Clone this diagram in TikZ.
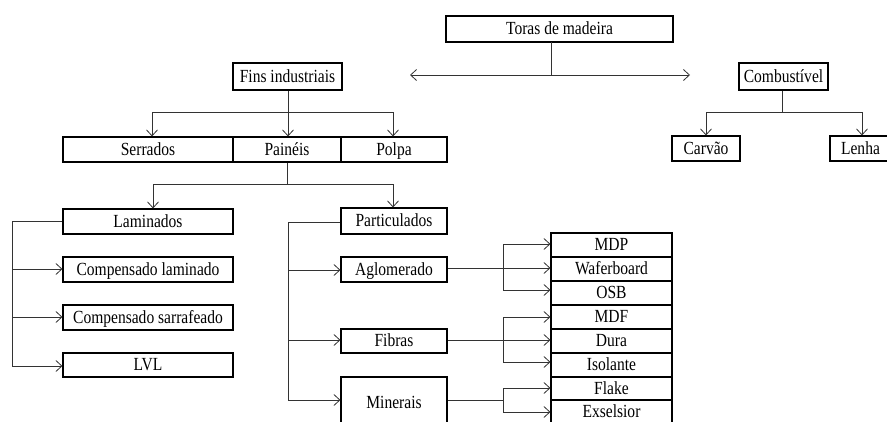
\documentclass[tikz,border=0pt]{standalone}
\usepackage{fontspec}
\setmainfont{Liberation Serif}[FakeStretch=0.84]
\usetikzlibrary{arrows.meta}
\begin{document}
\begin{tikzpicture}[x=1pt,y=-1pt,
  box/.style={draw=black,line width=1.1pt,inner sep=0pt,text height=13pt,text depth=1.5pt,
    font=\fontsize{18.5pt}{20pt}\selectfont},
  conn/.style={draw=black!80,line width=0.8pt},
  arr/.style={conn,-{Straight Barb[length=6pt,width=11pt]}}]
\useasboundingbox (0,0) rectangle (887,421);
\clip (0,0) rectangle (887,421);
% boxes
\node[box,minimum width=227pt,minimum height=26pt] (toras) at (559.5,29) {Toras de madeira};
\node[box,minimum width=109pt,minimum height=27pt] (fins) at (287.5,76.5) {Fins industriais};
\node[box,minimum width=89pt,minimum height=27pt] (comb) at (783.5,76.5) {Combustível};
\node[box,minimum width=170pt,minimum height=25pt] (serr) at (148,149.5) {Serrados};
\node[box,minimum width=108pt,minimum height=25pt] (pain) at (287,149.5) {Painéis};
\node[box,minimum width=106pt,minimum height=25pt] (polpa) at (394,149.5) {Polpa};
\node[box,minimum width=68pt,minimum height=25pt] (carvao) at (706,148.5) {Carvão};
\node[box,minimum width=61pt,minimum height=25pt] (lenha) at (860.5,148.5) {Lenha};
\node[box,minimum width=170pt,minimum height=25pt] (lam) at (148,221.5) {Laminados};
\node[box,minimum width=170pt,minimum height=25pt] (cl) at (148,269.5) {Compensado laminado};
\node[box,minimum width=170pt,minimum height=25pt] (cs) at (148,317.5) {Compensado sarrafeado};
\node[box,minimum width=170pt,minimum height=24pt] (lvl) at (148,365) {LVL};
\node[box,minimum width=106pt,minimum height=26pt] (part) at (394,221) {Particulados};
\node[box,minimum width=106pt,minimum height=25pt] (aglo) at (394,269.5) {Aglomerado};
\node[box,minimum width=106pt,minimum height=24pt] (fib) at (394,341) {Fibras};
\node[box,minimum width=106pt,minimum height=51pt] (min) at (394,402.5) {Minerais};
\node[box,minimum width=121pt,minimum height=24pt] (mdp) at (611.5,245) {MDP};
\node[box,minimum width=121pt,minimum height=24pt] (waf) at (611.5,269) {Waferboard};
\node[box,minimum width=121pt,minimum height=24pt] (osb) at (611.5,293) {OSB};
\node[box,minimum width=121pt,minimum height=24pt] (mdf) at (611.5,317) {MDF};
\node[box,minimum width=121pt,minimum height=24pt] (dura) at (611.5,341) {Dura};
\node[box,minimum width=121pt,minimum height=24pt] (iso) at (611.5,365) {Isolante};
\node[box,minimum width=121pt,minimum height=23pt] (flake) at (611.5,388.5) {Flake};
\node[box,minimum width=121pt,minimum height=24pt] (exs) at (611.5,412) {Exselsior};
% coordinates
\coordinate (t0) at (551,42);
\coordinate (t1) at (551,75);
\coordinate (tl) at (410,75);
\coordinate (tr) at (690,75);
\coordinate (f0) at (288,112);
\coordinate (fl) at (152,112);
\coordinate (fr) at (393,112);
\coordinate (p0) at (287,184);
\coordinate (pl) at (153,184);
\coordinate (pr) at (393,184);
\coordinate (c0) at (782,112);
\coordinate (cl0) at (706,112);
\coordinate (cr0) at (862,112);
\coordinate (lb) at (12,221);
\coordinate (pb) at (288,222);
% top
\draw[conn] (t0) -- (t1);
\draw[arr] (t1) -- (tl);
\draw[arr] (t1) -- (tr);
% fins
\draw[conn] (fins.south -| f0) -- (f0);
\draw[conn] (fl) -- (fr);
\draw[arr] (fl) -- (fl |- serr.north);
\draw[arr] (f0) -- (f0 |- pain.north);
\draw[arr] (fr) -- (fr |- polpa.north);
% combustivel
\draw[conn] (comb.south -| c0) -- (c0);
\draw[conn] (cl0) -- (cr0);
\draw[arr] (cl0) -- (cl0 |- carvao.north);
\draw[arr] (cr0) -- (cr0 |- lenha.north);
% paineis
\draw[conn] (pain.south) -- (p0);
\draw[conn] (pl) -- (pr);
\draw[arr] (pl) -- (pl |- lam.north);
\draw[arr] (pr) -- (pr |- part.north);
% laminados
\draw[conn] (lam.west |- lb) -- (lb) -- (12,366);
\draw[arr] (12,269) -- (cl.west |- 0,269);
\draw[arr] (12,317) -- (cs.west |- 0,317);
\draw[arr] (12,366) -- (lvl.west |- 0,366);
% particulados
\draw[conn] (part.west |- pb) -- (pb) -- (288,400);
\draw[arr] (288,270) -- (aglo.west |- 0,270);
\draw[arr] (288,340) -- (fib.west |- 0,340);
\draw[arr] (288,400) -- (min.west |- 0,400);
% aglomerado
\draw[conn] (aglo.east |- 0,268) -- (503,268);
\draw[conn] (503,244) -- (503,290);
\draw[arr] (503,244) -- (mdp.west |- 0,244);
\draw[arr] (503,268) -- (waf.west |- 0,268);
\draw[arr] (503,290) -- (osb.west |- 0,290);
% fibras
\draw[conn] (fib.east |- 0,340) -- (503,340);
\draw[conn] (503,317) -- (503,362);
\draw[arr] (503,317) -- (mdf.west |- 0,317);
\draw[arr] (503,340) -- (dura.west |- 0,340);
\draw[arr] (503,362) -- (iso.west |- 0,362);
% minerais
\draw[conn] (min.east |- 0,400) -- (503,400);
\draw[conn] (503,388) -- (503,412);
\draw[arr] (503,388) -- (flake.west |- 0,388);
\draw[arr] (503,412) -- (exs.west |- 0,412);
\end{tikzpicture}
\end{document}
